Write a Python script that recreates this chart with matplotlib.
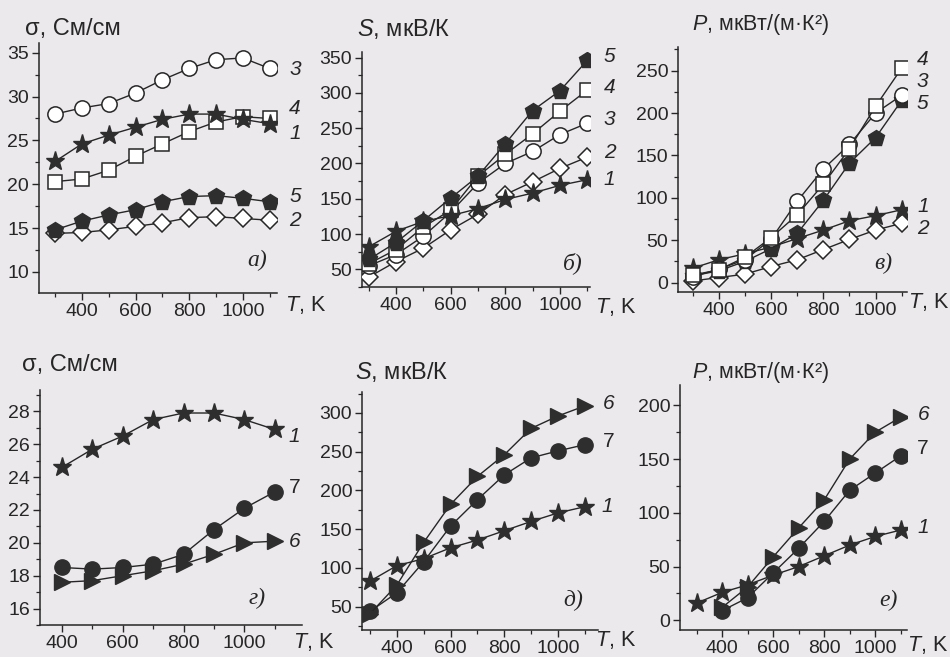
import matplotlib
matplotlib.use("Agg")
import matplotlib.pyplot as plt
from matplotlib.ticker import MultipleLocator

plt.rcParams['font.family'] = ['Liberation Sans', 'DejaVu Sans']
plt.rcParams['mathtext.fontset'] = 'custom'
plt.rcParams['mathtext.it'] = 'Liberation Sans:italic'
plt.rcParams['mathtext.rm'] = 'Liberation Sans'

# ---------------- data ----------------
T_full = [300, 400, 500, 600, 700, 800, 900, 1000, 1100]
T_400 = [400, 500, 600, 700, 800, 900, 1000, 1100]

# panel a) sigma, S/cm
sigma_1 = [22.6, 24.6, 25.6, 26.5, 27.4, 28.0, 28.0, 27.4, 26.9]
sigma_2 = [14.4, 14.5, 14.8, 15.2, 15.6, 16.2, 16.3, 16.1, 15.9]
sigma_3 = [28.0, 28.7, 29.2, 30.4, 31.9, 33.2, 34.2, 34.4, 33.2]
sigma_4 = [20.3, 20.6, 21.6, 23.2, 24.6, 26.0, 27.1, 27.7, 27.5]
sigma_5 = [14.8, 15.8, 16.5, 17.1, 18.0, 18.6, 18.7, 18.4, 18.0]

# panel б) S, uV/K
S_1 = [82, 104, 118, 126, 136, 149, 158, 169, 177]
S_2 = [39, 61, 80, 106, 128, 156, 174, 193, 209]
S_3 = [55, 71, 97, 131, 172, 200, 217, 241, 257]
S_4 = [58, 78, 110, 134, 182, 213, 242, 274, 304]
S_5 = [64, 88, 119, 151, 182, 228, 275, 303, 346]

# panel в) P, uW/(m K^2)
P_1 = [17, 27, 34, 42, 52, 62, 73, 79, 86]
P_2 = [2, 6, 10, 19, 27, 39, 51, 62, 70]
P_3 = [7, 16, 27, 51, 96, 134, 163, 200, 221]
P_4 = [9, 15, 30, 53, 80, 116, 158, 208, 253]
P_5 = [8, 14, 25, 40, 58, 97, 141, 171, 215]

# panel г) sigma (T from 400 K)
sigma_1b = [24.6, 25.7, 26.5, 27.5, 27.9, 27.9, 27.5, 26.9]
sigma_6 = [17.6, 17.7, 18.0, 18.3, 18.7, 19.3, 20.0, 20.1]
sigma_7 = [18.5, 18.4, 18.5, 18.7, 19.3, 20.8, 22.1, 23.1]

# panel д) S
S_1b = [83, 103, 112, 126, 136, 148, 160, 171, 179]
S_6 = [41, 78, 133, 182, 218, 246, 280, 296, 309]
S_7 = [44, 68, 108, 154, 188, 220, 242, 251, 259]

# panel е) P
P_1b = [16, 26, 33, 42, 50, 60, 70, 78, 84]
P_6 = [12, 31, 59, 86, 112, 150, 175, 189]
P_7 = [9, 21, 44, 67, 92, 121, 137, 153]

# ---------------- style ----------------
BG = '#ece9ed'
INK = '#262626'
FILL = '#2e2e2e'

styles = {
    '1': dict(marker='*', ms=14, mfc=FILL, mec=FILL),
    '2': dict(marker='D', ms=9, mfc='white', mec=INK, mew=1.1),
    '3': dict(marker='o', ms=11, mfc='white', mec=INK, mew=1.1),
    '4': dict(marker='s', ms=10, mfc='white', mec=INK, mew=1.1),
    '5': dict(marker='p', ms=12, mfc=FILL, mec=FILL),
    '6': dict(marker='>', ms=12, mfc=FILL, mec=FILL),
    '7': dict(marker='o', ms=11, mfc=FILL, mec=FILL),
}

fig = plt.figure(figsize=(9.5, 6.57), dpi=100, facecolor=BG)

def make_ax(rect, xlim, ylim, ymaj, ymin):
    ax = fig.add_axes(rect)
    ax.set_facecolor(BG)
    ax.patch.set_alpha(0)
    for s in ('top', 'right'):
        ax.spines[s].set_visible(False)
    for s in ('left', 'bottom'):
        ax.spines[s].set_color(INK)
        ax.spines[s].set_linewidth(1.1)
    ax.set_xlim(*xlim)
    ax.set_ylim(*ylim)
    ax.xaxis.set_major_locator(MultipleLocator(200))
    ax.xaxis.set_minor_locator(MultipleLocator(100))
    ax.yaxis.set_major_locator(MultipleLocator(ymaj))
    ax.yaxis.set_minor_locator(MultipleLocator(ymin))
    ax.tick_params(which='major', direction='out', length=5, width=1.0,
                   color=INK, labelsize=14, labelcolor=INK, pad=2)
    ax.tick_params(which='minor', direction='out', length=3, width=0.9, color=INK)
    return ax

def plot_series(ax, T, y, key, dx=14, dy=0, upright=False):
    ax.plot(T, y, color=INK, lw=1.0, zorder=3, **styles[key])
    ax.annotate(key, xy=(T[-1], y[-1]), xytext=(dx, dy), textcoords='offset points',
                ha='left', va='center', fontsize=15, color=INK,
                style='normal' if upright else 'italic', annotation_clip=False)

def labels(ax, ylab, ylx, yly, tx, ty, tag, tagx, tagy, ysize=17):
    ax.text(ylx, yly, ylab, transform=ax.transAxes, ha='left', va='center',
            fontsize=ysize, color=INK)
    ax.text(tx, ty, r'$T$, K', transform=ax.transAxes, ha='left', va='center',
            fontsize=15.5, color=INK)
    ax.text(tagx, tagy, tag, transform=ax.transAxes, ha='center', va='center',
            fontsize=17, color=INK, style='italic', family='Liberation Serif')

# a)
ax = make_ax([0.041, 0.554, 0.2505, 0.3805], (240, 1127), (7.6, 36.1), 5, 2.5)
plot_series(ax, T_full, sigma_2, '2', dy=0)
plot_series(ax, T_full, sigma_5, '5', dy=4)
plot_series(ax, T_full, sigma_4, '4', dy=7)
plot_series(ax, T_full, sigma_1, '1', dy=-7)
plot_series(ax, T_full, sigma_3, '3', dy=-1)
labels(ax, 'σ, См/см', -0.06, 1.056, 1.034, -0.048, 'а)', 0.915, 0.13)

# б)
ax = make_ax([0.381, 0.5632, 0.24, 0.3577], (275, 1110), (25, 358), 50, 25)
plot_series(ax, T_full, S_2, '2', dx=12, dy=3)
plot_series(ax, T_full, S_3, '3', dx=12, dy=3)
plot_series(ax, T_full, S_4, '4', dx=12, dy=2)
plot_series(ax, T_full, S_1, '1', dx=12, dy=0)
plot_series(ax, T_full, S_5, '5', dx=12, dy=3)
labels(ax, r'$S$, мкВ/К', -0.02, 1.098, 1.022, -0.085, 'б)', 0.925, 0.10)

# в)
ax = make_ax([0.7137, 0.5556, 0.241, 0.373], (244, 1120), (-11, 278), 50, 25)
plot_series(ax, T_full, P_2, '2', dx=11, dy=-4)
plot_series(ax, T_full, P_1, '1', dx=11, dy=2)
plot_series(ax, T_full, P_5, '5', dx=11, dy=-2)
plot_series(ax, T_full, P_3, '3', dx=11, dy=10)
plot_series(ax, T_full, P_4, '4', dx=11, dy=6)
labels(ax, r'$P$, мкВт/(м·К²)', 0.06, 1.09, 1.004, -0.04, 'в)', 0.895, 0.118, ysize=15.5)

# г)
ax = make_ax([0.042, 0.0487, 0.2758, 0.3577], (327, 1190), (15, 29.3), 2, 1)
plot_series(ax, T_400, sigma_6, '6', dx=10, dy=0)
plot_series(ax, T_400, sigma_7, '7', dx=10, dy=3, upright=True)
plot_series(ax, T_400, sigma_1b, '1', dx=10, dy=-5)
labels(ax, 'σ, См/см', -0.069, 1.106, 0.966, -0.072, 'г)', 0.83, 0.115)

# д)
ax = make_ax([0.381, 0.0411, 0.2484, 0.3623], (270, 1149), (20, 327), 50, 25)
plot_series(ax, T_full, S_1b, '1', dx=12, dy=0)
plot_series(ax, T_full, S_7, '7', dx=13, dy=2, upright=True)
plot_series(ax, T_full, S_6, '6', dx=13, dy=2)
labels(ax, r'$S$, мкВ/К', -0.03, 1.084, 0.987, -0.042, 'д)', 0.894, 0.126)

# е)
ax = make_ax([0.7158, 0.0411, 0.239, 0.373], (235, 1125), (-9, 219), 50, 25)
plot_series(ax, T_full, P_1b, '1', dx=12, dy=2)
plot_series(ax, T_400, P_7, '7', dx=12, dy=5, upright=True)
plot_series(ax, T_400, P_6, '6', dx=12, dy=2)
labels(ax, r'$P$, мкВт/(м·К²)', 0.053, 1.049, 1.0, -0.061, 'е)', 0.916, 0.122, ysize=15.5)

fig.savefig('out.png', dpi=100, facecolor=BG)
